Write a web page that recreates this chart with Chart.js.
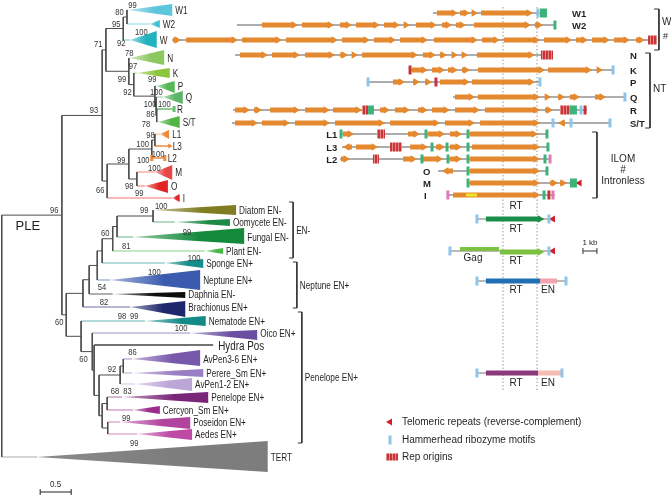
<!DOCTYPE html>
<html>
<head>
<meta charset="utf-8">
<script src="https://cdn.jsdelivr.net/npm/chart.js@4/dist/chart.umd.min.js"></script>
<style>html,body{margin:0;padding:0;background:#fff}</style>
</head>
<body>
<canvas id="c" width="671" height="497"></canvas>
<script>
// ---- tree: internal nodes (depth in subst./site) and their children ----
const nodeDepth = {
  root: -0.02, n96: 0.95, n93: 1.60, n71: 1.66, n95: 1.94, n80: 2.00, n99b: 2.03, n97: 2.11,
  n155: 2.45, nQ: 2.47, nRS: 2.48, n66: 1.68, n99c: 2.03, nL: 2.40, nL13: 2.45, nMO: 2.16,
  A: 1.02, K1: 1.29, K2: 1.39, K3: 1.52, K4: 1.60, K5: 1.77, K6: 1.84, DO: 2.42,
  B: 1.26, C: 1.44, D: 1.47, E: 1.55, F: 1.89, G: 1.94, Pn: 1.60, H: 1.68, J: 1.69
};
const nodeChildren = {
  root: ['n96', 'TERT'], n96: ['n93', 'A'], n93: ['n71', 'n66'], n71: ['n95', 'n99b'],
  n95: ['n80', 'W'], n80: ['W1', 'W2'], n99b: ['N', 'n97'], n97: ['K', 'n155'],
  n155: ['P', 'nQ'], nQ: ['Q', 'nRS'], nRS: ['R', 'ST'], n66: ['n99c', 'I'],
  n99c: ['nL', 'nMO'], nL: ['nL13', 'L2'], nL13: ['L1', 'L3'], nMO: ['M', 'O'],
  A: ['K1', 'B'], K1: ['K2', 'Brach'], K2: ['K3', 'Daph'], K3: ['K4', 'Nept'], K4: ['K5', 'Spon'],
  K5: ['K6', 'Plant'], K6: ['DO', 'Fung'], DO: ['Diat', 'Oomy'],
  B: ['Nema', 'C'], C: ['Oico', 'D'], D: ['Hydra', 'E'], E: ['F', 'Pn'], F: ['G', 'Av12'],
  G: ['Av36', 'Pere'], Pn: ['H', 'J'], H: ['Pene', 'Cerc'], J: ['Pose', 'Aede']
};

// ---- collapsed clades ----
const leafIds = ['W1','W2','W','N','K','P','Q','R','ST','L1','L3','L2','M','O','I','Diat','Oomy','Fung','Plant','Spon','Nept','Daph','Brach','Nema','Oico','Hydra','Av36','Pere','Av12','Pene','Cerc','Pose','Aede','TERT'];
const leafLabels = ['W1','W2','W','N','K','P','Q','R','S/T','L1','L3','L2','M','O','I','Diatom EN-','Oomycete EN-','Fungal EN-','Plant EN-','Sponge EN+','Neptune EN+','Daphnia EN-','Brachionus EN+','Nematode EN+','Oico EN+','Hydra Pos','AvPen3-6 EN+','Perere_Sm EN+','AvPen1-2 EN+','Penelope EN+','Cercyon_Sm EN+','Poseidon EN+','Aedes EN+','TERT'];
const leafRow = [10,24,40,58,73,86,97,109,122,134,146,158,172,186,198,210,222,237,251,263,280,294,307,321,333,345,359,373,384,397,410,422,434,457];
const cladeStart = [2.02,2.37,2.05,2.05,2.16,2.48,2.58,2.76,2.50,2.53,2.69,2.61,2.45,2.29,2.73,2.42,2.77,2.10,3.26,2.61,1.73,1.77,2.05,2.29,3.02,3.39,2.08,2.08,2.13,1.92,2.10,1.89,2.16,0.55];
const cladeEnd = [2.73,2.53,2.48,2.60,2.69,2.77,2.90,2.76,2.85,2.68,2.69,2.61,2.73,2.66,2.85,3.76,3.66,3.89,3.55,3.23,3.18,2.94,2.94,3.27,4.10,3.39,3.18,3.23,3.05,3.31,2.53,3.02,3.05,4.27];
const cladeSpread = [[4,16],[20,28],[31,48],[50,65],[68,78],[81,93],[91,104],null,[116,128],[130,139],null,null,[165,180],[180,193],[194,202],[205,215],[219,226],[228,244],[248,254],[259,268],[270,290],[292,298],[301,317],[316,326],[330,340],null,[350,366],[369,377],[378,391],[392,403],[406,414],[417,429],[429,440],[441,472]];

// ---- bootstrap support ----
const supportText = ['99','80','95','100','92','71','78','97','99','92','99','100','100','100','86','78','93','98','100','99','100','100','100','98','66','99','96','99','100','60','81','99','100','100','54','82','60','98','99','100','60','86','92','68','83','99','99'];
const supportDepth = [2.02,1.81,1.76,2.13,1.84,1.47,1.97,2.03,1.85,1.94,2.34,2.37,2.27,2.50,2.31,2.24,1.40,2.31,2.15,1.84,2.16,2.40,2.34,1.97,1.50,2.13,0.76,2.21,2.45,1.58,1.92,2.90,2.98,2.34,1.53,1.56,0.84,1.85,2.05,2.77,1.23,2.02,1.69,1.74,1.94,1.92,2.05];
const supportRow = [5,12,24,32,43,44,53,66,79,92,79,92,104,104,114,124,110,135,144,160,160,154,168,186,190,193,210,210,206,233,246,232,258,272,287,302,322,316,316,328,359,352,369,391,391,418,443];

// ---- element structures (kb) ----
const geneRowNames = ['W1','W2',null,'N','K','P','Q','R','S/T','L1','L3','L2','O','M','I'];
const geneRowY = [13,25,40,55,70,82,97,110,123,134,147,159,171,183,195];
const geneSpan = [[30.93,38.57],[16.93,39.71],[12.29,46.93],[16.79,39.5],[29.29,43.79],[26.29,38.57],[32.36,44.64],[16.64,41.93],[16.57,43.57],[24.29,39.14],[24.43,39.21],[24.29,39.29],[31.29,39.07],[33.43,41.36],[31.93,39.64]];
const geneOrfs = [
  [[31.21,32.71],[32.86,33.57],[33.71,34.14],[34.36,38.07]],
  [[18.71,21.29],[21.57,23.86],[24.29,25.14],[25.43,27.14],[27.43,28.57],[28.86,29.29],[29.71,31.21],[31.57,32.29],[32.57,33.29],[33.86,37.93],[38.21,38.79]],
  [[12.36,12.93],[13.29,17],[17.29,20.14],[20.43,24.14],[24.43,26.43],[26.71,28.29],[28.57,30.57],[31,34.14],[34.43,35.71],[36,38.57],[38.86,40.86],[41.14,42],[42.29,43.57],[43.86,45],[45.43,46.07]],
  [[17.14,19.14],[19.43,21.43],[21.79,23.93],[24.29,24.86],[25.14,25.57],[25.86,29.86],[30.21,31.14],[31.43,31.93],[32.29,32.71],[33.14,33.43],[34.07,38.21]],
  [[29.43,30.57],[30.86,31.79],[32,32.71],[33,33.57],[34.14,38.93],[39.14,42.29],[42.64,43.07]],
  [[28.07,28.93],[29.5,30],[30.36,30.86],[31.43,33.57],[33.71,38.21]],
  [[32.5,33.93],[34.14,38.57],[38.93,39.36],[39.86,40.36],[40.71,41.43],[42.5,43.29]],
  [[16.79,17.86],[18.14,18.71],[19.29,21.43],[21.79,23.57],[23.79,25.86],[27.14,27.86],[28.21,29.29],[29.86,30.57],[30.86,32.14],[32.5,34.29],[34.64,38.57],[38.93,39.5]],
  [[16.79,18.43],[18.71,20.71],[21.07,23.57],[23.93,27.5],[27.86,31.43],[31.79,33.93],[34.29,38.57],[40.36,39.86]],
  [[24.5,25.29],[29.14,30],[30.57,31.79],[32.14,33],[33.57,38.43]],
  [[25.14,24.5],[25.43,27],[29.29,30.57],[31.14,31.79],[32.14,33],[33.71,38.57]],
  [[24.36,25],[28.79,29.79],[30.21,31.64],[32.14,33],[33.57,38.57]],
  [[32.36,31.57],[33.57,38.57]],
  [[33.57,38.57],[39.29,39.86],[40,40.5]],
  [[32.36,38.57]]
];
const geneMarks = [
  [['hh',38.43],['gb',38.57,39.07]],
  [['gt',39.64]],
  [['rep',46.29,46.93]],
  [['rep',38.64,39.5]],
  [['rt',29.29],['hh',43.79]],
  [['hh',26.29],['rt',31.14],['hh',38.57]],
  [['hh',44.64]],
  [['rep',25.86,26.29],['gb',26.29,26.71],['rep',40,40.71],['gb',40.71,41.21],['hh',41.5],['rt',41.79]],
  [['hh',39.5],['hh',40.79],['hh',43.57]],
  [['gt',24.36],['rep',26.93,27.5],['gt',30.43],['gt',33.43],['gt',39.07]],
  [['rep',27.86,28.71],['gt',30.86],['gt',31.93],['gt',33.43],['gt',39.14]],
  [['rep',26.64,27.07],['gt',30.14],['gt',32],['gt',33.43],['gt',38.93],['pk',39.29]],
  [['gt',33.43],['gt',39.07]],
  [['gt',33.43],['gb',40.71,41.21],['telo',41.4]],
  [['pk',31.99],['yel',33.29,34.07],['gt',38.86],['rt',39.21],['pk',39.5]]
];

// simple EN-/EN+ element schemes
const domainRowY = [219, 251, 281, 373];
const domainSpan = [[34.07,39.21],[32.14,39.21],[34.07,40.43],[34.07,40.14]];
const domainParts = [
  [['RT',34.71,38.57]],
  [['Gag',32.86,35.64],['RT',35.71,38.57]],
  [['RT',34.71,38.57],['EN',38.57,39.79]],
  [['RT',34.71,38.43],['EN',38.43,40.14]]
];
const domainMarks = [
  [['hh',34.07],['hh',39.21],['telo',39.5]],
  [['hh',32.14],['hh',39.21],['telo',39.5]],
  [['hh',34.07],['hh',40.43]],
  [['hh',34.07],['hh',40.14]]
];
const rtBounds = [35.93, 38.36];

// ---- styles ----
const leafColor = {
  W1:'#5ec5dc', W2:'#45bfd3', W:'#22b1bf', N:'#8ec863', K:'#8cc43c', P:'#55b656', Q:'#5bb567', R:'#6cbf6c', ST:'#52b446',
  L1:'#ef8a3a', L3:'#ef8a3a', L2:'#ef8a3a', M:'#ea4646', O:'#e32424', I:'#e32424',
  Diat:'#7f7c22', Oomy:'#1d8b45', Fung:'#14893b', Plant:'#47b947', Spon:'#178d89', Nept:'#3a5bae',
  Daph:'#0d0d0d', Brach:'#1f276c', Nema:'#138a87', Oico:'#6a4ea2', Hydra:'#444444',
  Av36:'#7858aa', Pere:'#9a7ec4', Av12:'#bca5d7', Pene:'#7a2678', Cerc:'#9c2d8e', Pose:'#b3449e', Aede:'#be4aa4', TERT:'#7d7d7d'
};
const domainColor = [['#1a8e4a'], ['#7dc142','#7dc142'], ['#1f6fb4','#f2a3ab'], ['#8b3a7d','#f6bcb4']];
const ORANGE = '#e4892f', BRANCH = '#4d4d4d', TXT = '#231f20';
const FONT = '"Liberation Sans", Arial, sans-serif';
const ARROW_KB = 0.3;

// red hatch for repeat origins
const hatchCanvas = document.createElement('canvas');
hatchCanvas.width = 3; hatchCanvas.height = 4;
const hctx = hatchCanvas.getContext('2d');
hctx.fillStyle = '#c8343a'; hctx.fillRect(0, 0, 3, 4);
hctx.fillStyle = '#e58a85'; hctx.fillRect(2, 0, 1, 4);
const hatch = hctx.createPattern(hatchCanvas, 'repeat');
const markColor = { hh:'#8ec5e8', gt:'#3db37a', gb:'#3db37a', rep:hatch, rt:'#c8303a', pk:'#e07ab4', yel:'#f2e22a', telo:'#d01f2a' };

function mix(hex, w) {
  const n = parseInt(hex.slice(1), 16);
  const m = v => Math.round(v + (255 - v) * w);
  return 'rgb(' + m((n >> 16) & 255) + ',' + m((n >> 8) & 255) + ',' + m(n & 255) + ')';
}

const datasets = [];
function seg(axis, pts, color, width, order, extra) {
  datasets.push(Object.assign({
    xAxisID: axis, data: pts.map(p => ({x: p[0], y: p[1]})),
    showLine: true, borderColor: color, borderWidth: width, borderCapStyle: 'butt',
    pointRadius: 0, fill: false, order: order
  }, extra || {}));
}
function dot(axis, x, y, style, color, radius, rot, order) {
  const isLine = style === 'line';
  datasets.push({
    xAxisID: axis, data: [{x: x, y: y}], showLine: false, pointStyle: style,
    pointRadius: radius, pointRotation: rot,
    pointBackgroundColor: color, pointBorderColor: color, pointBorderWidth: isLine ? 3 : 0,
    order: order
  });
}
function orf(s, e, y, color, w) {
  const dir = e > s ? 1 : -1;
  const tip = e - dir * ARROW_KB;
  seg('kb', [[s, y], [tip, y]], color, w || 5, 5, {
    pointRadius: [0, 4.3], pointStyle: 'triangle', pointRotation: dir > 0 ? 90 : -90,
    pointBackgroundColor: color, pointBorderWidth: 0
  });
}
function mark(m, y, axis) {
  const t = m[0];
  if (t === 'telo') dot(axis, m[1], y, 'triangle', markColor.telo, 4, -90, 3);
  else if (m.length === 2) dot(axis, m[1], y, 'line', markColor[t], 4.5, 90, 3);
  else seg(axis, [[m[1], y], [m[2], y]], markColor[t], t === 'yel' ? 3 : 9, 3);
}

// ---- tree branches ----
const leafIndex = id => leafIds.indexOf(id);
const depthOf = id => id in nodeDepth ? nodeDepth[id] : cladeStart[leafIndex(id)];
function rowOf(id) {
  if (id in nodeChildren) {
    const c = nodeChildren[id];
    return (rowOf(c[0]) + rowOf(c[c.length - 1])) / 2;
  }
  return leafRow[leafIndex(id)];
}
Object.keys(nodeChildren).forEach(id => {
  const x = nodeDepth[id], ch = nodeChildren[id];
  seg('x', [[x, rowOf(ch[0])], [x, rowOf(ch[ch.length - 1])]], BRANCH, 1, 7);
  ch.forEach(c => {
    const li = leafIndex(c);
    let col = BRANCH;
    if (li >= 0) col = cladeSpread[li] ? mix(leafColor[c], 0.35) : leafColor[c];
    seg('x', [[x, rowOf(c)], [depthOf(c), rowOf(c)]], col, li >= 0 && !cladeSpread[li] ? 1.5 : 1, 7);
  });
});
// tips of uncollapsed leaves
dot('x', cladeEnd[leafIndex('R')], leafRow[leafIndex('R')], 'line', leafColor.R, 3, 90, 3);
dot('x', cladeEnd[leafIndex('L3')], leafRow[leafIndex('L3')], 'triangle', leafColor.L3, 3, 90, 3);
dot('x', cladeEnd[leafIndex('L2')], leafRow[leafIndex('L2')], 'line', leafColor.L2, 3, 90, 3);
dot('x', nodeDepth.nL, leafRow[leafIndex('L2')], 'line', leafColor.L2, 3, 90, 3);

// collapsed clade triangles
leafIds.forEach((id, i) => {
  const sp = cladeSpread[i];
  if (!sp) return;
  const a = cladeStart[i], e = cladeEnd[i], col = leafColor[id], r = leafRow[i];
  seg('x', [[a, r], [e, sp[0]], [e, sp[1]], [a, r]], 'rgba(0,0,0,0)', 1, 6, {
    fill: 'shape',
    backgroundColor: ctx => {
      const xs = ctx.chart.scales.x;
      if (!xs) return col;
      const p0 = xs.getPixelForValue(a), p1 = xs.getPixelForValue(e);
      if (!isFinite(p0) || !isFinite(p1) || p1 <= p0) return col;
      const g = ctx.chart.ctx.createLinearGradient(p0, 0, p1, 0);
      g.addColorStop(0, mix(col, id === 'TERT' ? 0.1 : 0.55));
      g.addColorStop(0.6, col);
      g.addColorStop(1, col);
      return g;
    }
  });
});

// tree-side brackets
const treeBrackets = [[4.68, 202, 258, 'EN-'], [4.74, 262, 308, 'Neptune EN+'], [4.82, 312, 443, 'Penelope EN+']];
treeBrackets.forEach(b => seg('x', [[b[0] - 0.065, b[1]], [b[0], b[1]], [b[0], b[2]], [b[0] - 0.065, b[2]]], '#333', 1, 7));
// scale bar 0.5
seg('x', [[0.6, 492], [1.1, 492]], '#222', 1, 7, {pointRadius: 3, pointStyle: 'line', pointRotation: 90, pointBorderColor: '#222', pointBorderWidth: 1});

// ---- element structures ----
rtBounds.forEach(k => seg('kb', [[k, 7], [k, 390]], '#9a9a9a', 1, 10, {borderDash: [1.5, 2]}));
geneRowY.forEach((y, i) => {
  seg('kb', [[geneSpan[i][0], y], [geneSpan[i][1], y]], '#5a5a5a', 1, 8);
  geneOrfs[i].forEach(o => orf(o[0], o[1], y, ORANGE));
  geneMarks[i].forEach(m => mark(m, y, 'kb'));
});
domainRowY.forEach((y, i) => {
  seg('kb', [[domainSpan[i][0], y], [domainSpan[i][1], y]], '#777', 1, 8);
  domainParts[i].forEach((p, j) => {
    const col = domainColor[i][j];
    if (p[0] === 'Gag') seg('kb', [[p[1], y - 2], [p[2], y - 2]], col, 4, 5);
    else if (i < 2) orf(p[1], p[2] + ARROW_KB, y + (i === 1 ? 1 : 0), col, 5);
    else seg('kb', [[p[1], y], [p[2], y]], col, 5, 5);
  });
  domainMarks[i].forEach(m => mark(m, y, 'kb'));
});
// right brackets
const geneBrackets = [[47.07, 9, 50], [46.43, 53, 128], [42.64, 132, 198]];
geneBrackets.forEach(b => seg('kb', [[b[0] - 0.35, b[1]], [b[0], b[1]], [b[0], b[2]], [b[0] - 0.35, b[2]]], '#333', 1, 7));
// 1 kb bar
seg('kb', [[41.64, 251], [42.64, 251]], '#333', 1, 7, {pointRadius: 3, pointStyle: 'line', pointRotation: 90, pointBorderColor: '#333', pointBorderWidth: 1});
// legend icons
dot('kb', 27.86, 422, 'triangle', markColor.telo, 4, -90, 3);
dot('kb', 27.86, 440, 'line', markColor.hh, 4.5, 90, 3);
seg('kb', [[27.57, 457], [28.43, 457]], markColor.rep, 7, 3);

// ---- texts ----
const texts = [];
function txt(s, ax, x, y, o) { texts.push(Object.assign({s: s, ax: ax, x: x, y: y, size: 10, sq: 1, align: 'left', dx: 0, bold: false, color: TXT}, o || {})); }
leafIds.forEach((id, i) => txt(leafLabels[i], 'x', cladeEnd[i], leafRow[i] + 1.5, {dx: id === 'Hydra' ? 5 : 3, size: id === 'Hydra' ? 12 : 10, sq: 0.82}));
supportText.forEach((s, i) => txt(s, 'x', supportDepth[i], supportRow[i], {size: 9.5, sq: 0.8, color: '#333'}));
treeBrackets.forEach(b => txt(b[3], 'x', b[0], (b[1] + b[2]) / 2 + 1, {dx: 3, sq: 0.82}));
txt('PLE', 'x', 0.40, 226, {size: 13, align: 'center'});
txt('0.5', 'x', 0.85, 484, {size: 9.5, align: 'center', sq: 0.85});
const geneLabelAt = [40.86, 40.86, null, 45, 45, 45, 45, 45, 45, 23.3, 23.3, 23.3, 30.21, 30.21, 30.29];
geneRowNames.forEach((n, i) => { if (n) txt(n, 'kb', geneLabelAt[i], geneRowY[i] + 1, {bold: true, size: 9.5}); });
txt('W', 'kb', 47.29, 22, {size: 10});
txt('#', 'kb', 47.36, 37, {size: 9});
txt('NT', 'kb', 46.64, 89);
txt('ILOM', 'kb', 44.5, 159, {align: 'center'});
txt('#', 'kb', 44.5, 170, {align: 'center'});
txt('Intronless', 'kb', 44.5, 181, {align: 'center'});
[206, 229, 261, 290, 383].forEach(y => txt('RT', 'kb', 36.86, y, {align: 'center'}));
txt('Gag', 'kb', 33.79, 258, {align: 'center'});
txt('EN', 'kb', 39.14, 290, {align: 'center'});
txt('EN', 'kb', 39.14, 383, {align: 'center'});
txt('1 kb', 'kb', 42.14, 243, {size: 8, align: 'center'});
txt('Telomeric repeats (reverse-complement)', 'kb', 28.71, 422);
txt('Hammerhead ribozyme motifs', 'kb', 28.71, 440);
txt('Rep origins', 'kb', 28.71, 457);

const textPlugin = {
  id: 'texts',
  afterDatasetsDraw(chart) {
    const ctx = chart.ctx;
    texts.forEach(t => {
      const px = chart.scales[t.ax].getPixelForValue(t.x) + t.dx;
      const py = chart.scales.y.getPixelForValue(t.y);
      ctx.save();
      ctx.translate(px, py);
      ctx.scale(t.sq, 1);
      ctx.font = (t.bold ? 'bold ' : '') + t.size + 'px ' + FONT;
      ctx.fillStyle = t.color;
      ctx.textAlign = t.align;
      ctx.textBaseline = 'middle';
      ctx.fillText(t.s, 0, 0);
      ctx.restore();
    });
  }
};

new Chart(document.getElementById('c'), {
  type: 'scatter',
  data: { datasets: datasets },
  options: {
    responsive: false,
    animation: false,
    devicePixelRatio: 1,
    events: [],
    layout: { padding: 0, autoPadding: false },
    plugins: { legend: { display: false }, tooltip: { enabled: false } },
    scales: {
      x: { type: 'linear', display: false, min: -0.048, max: 10.774 },
      kb: { type: 'linear', axis: 'x', position: 'bottom', display: false, min: 0, max: 47.93 },
      y: { type: 'linear', display: false, min: 0, max: 497, reverse: true }
    }
  },
  plugins: [textPlugin]
});
</script>
</body>
</html>
